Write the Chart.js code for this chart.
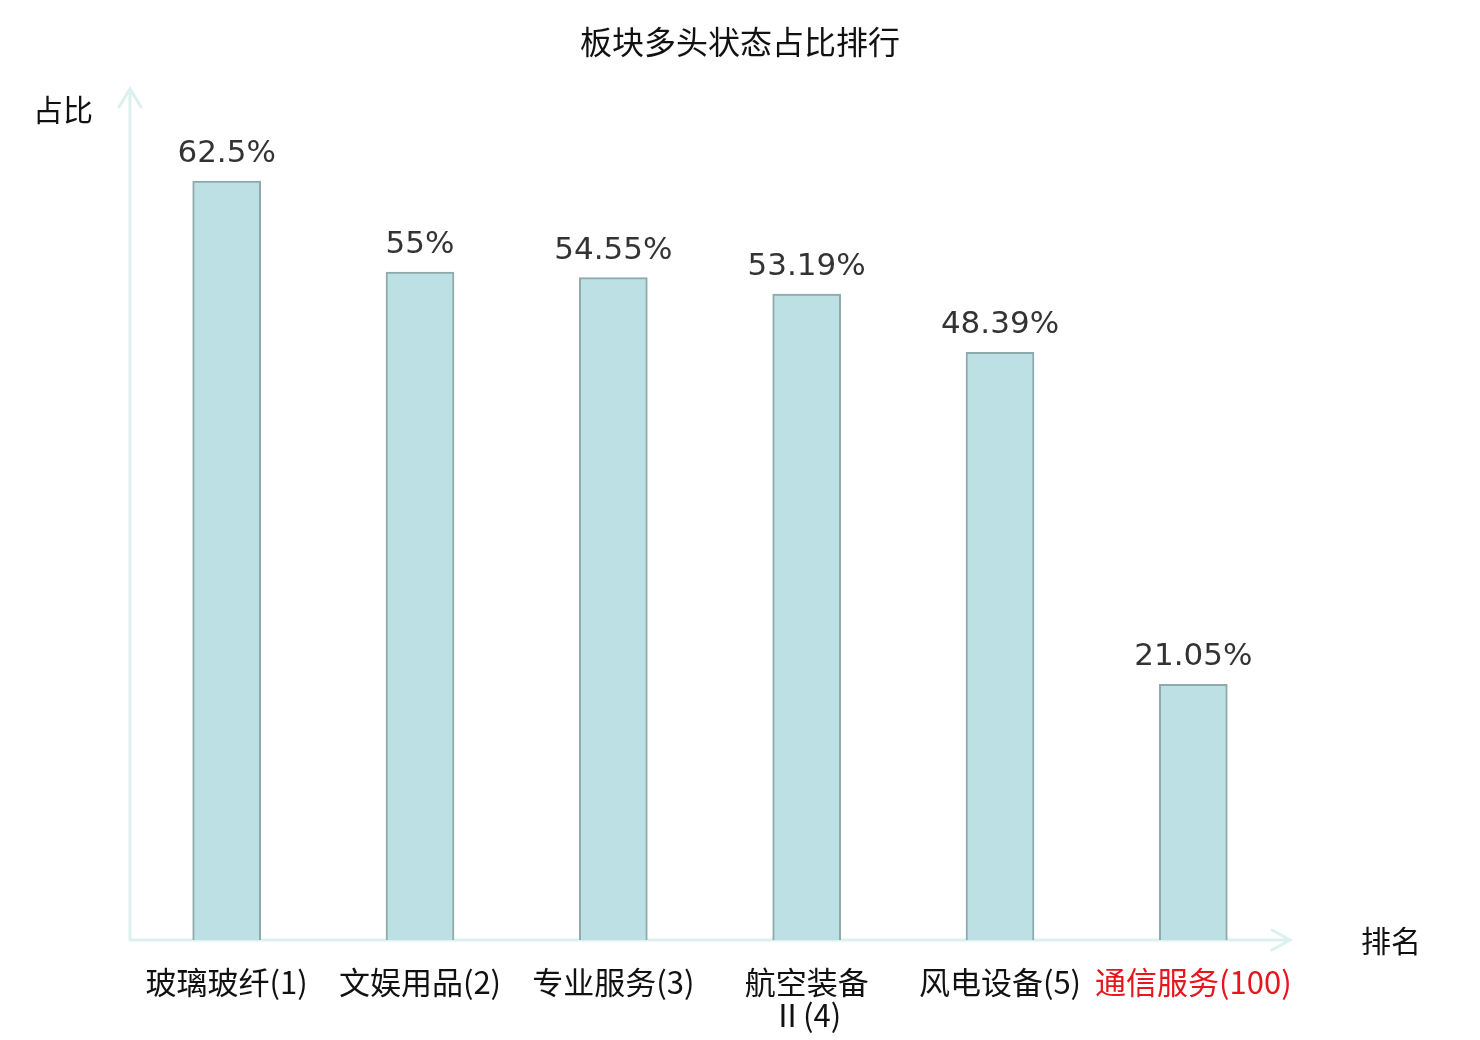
<!DOCTYPE html>
<html>
<head>
<meta charset="utf-8">
<script src="https://cdn.jsdelivr.net/npm/chart.js@4.4.1/dist/chart.umd.min.js"></script>
<style>
  html, body { margin: 0; padding: 0; background: #fff; }
  #wrap { width: 1480px; height: 1040px; }
</style>
</head>
<body>
<div id="wrap"><canvas id="rankChart" width="1480" height="1040"></canvas></div>
<script>
// categories and values
const categories = [
    '玻璃玻纤(1)',
    '文娱用品(2)',
    '专业服务(3)',
    ['航空装备', 'Ⅱ(4)'],
    '风电设备(5)',
    '通信服务(100)'
];
const shares = [62.5, 55, 54.55, 53.19, 48.39, 21.05];
const shareLabels = ['62.5%', '55%', '54.55%', '53.19%', '48.39%', '21.05%'];
const highlightIndex = 5; // last one is shown in red

const axisColor = '#dcf1ee';
const cjkFont = '"Noto Sans CJK SC", "Noto Sans", sans-serif';

// title, axis arrows, axis names and value labels
const decorPlugin = {
    id: 'decor',
    beforeDatasetsDraw(chart) {
        const ctx = chart.ctx;
        const area = chart.chartArea;
        ctx.save();
        ctx.strokeStyle = axisColor;
        ctx.lineWidth = 3;
        ctx.lineCap = 'round';
        // y axis
        ctx.beginPath();
        ctx.moveTo(area.left, area.bottom);
        ctx.lineTo(area.left, area.top - 1);
        ctx.moveTo(area.left - 11, area.top + 17);
        ctx.lineTo(area.left, area.top - 1);
        ctx.lineTo(area.left + 11, area.top + 17);
        // x axis
        ctx.moveTo(area.left, area.bottom);
        ctx.lineTo(area.right, area.bottom);
        ctx.moveTo(area.right - 18, area.bottom - 10);
        ctx.lineTo(area.right, area.bottom);
        ctx.lineTo(area.right - 18, area.bottom + 10);
        ctx.stroke();
        ctx.restore();
    },
    afterDatasetsDraw(chart) {
        const ctx = chart.ctx;
        ctx.save();
        ctx.fillStyle = '#111';
        ctx.textAlign = 'center';
        ctx.textBaseline = 'middle';
        ctx.font = '32px ' + cjkFont;
        ctx.fillText('板块多头状态占比排行', chart.width / 2, 42);
        ctx.font = '30px ' + cjkFont;
        ctx.fillText('占比', 63, 110);
        ctx.fillText('排名', 1391, 941);

        // value labels over bars
        ctx.fillStyle = '#333';
        ctx.font = '31px "DejaVu Sans", sans-serif';
        ctx.textBaseline = 'alphabetic';
        const meta = chart.getDatasetMeta(0);
        meta.data.forEach(function(bar, i) {
            ctx.fillText(shareLabels[i], bar.x, bar.y - 19);
        });
        ctx.restore();
    }
};

const rankCtx = document.getElementById('rankChart').getContext('2d');
const rankChart = new Chart(rankCtx, {
    type: 'bar',
    data: {
        labels: categories,
        datasets: [{
            label: '占比',
            data: shares,
            backgroundColor: '#bce0e3',
            borderColor: '#8eaaab',
            borderWidth: 2,
            borderSkipped: 'bottom',
            barThickness: 68
        }]
    },
    options: {
        responsive: false,
        animation: false,
        devicePixelRatio: 1,
        layout: {
            padding: { left: 130, right: 190, top: 90, bottom: 0 }
        },
        plugins: {
            legend: { display: false },
            title: { display: false },
            tooltip: { enabled: false }
        },
        scales: {
            x: {
                grid: { display: false, drawTicks: false },
                border: { display: false },
                ticks: {
                    autoSkip: false,
                    maxRotation: 0,
                    minRotation: 0,
                    padding: 26,
                    font: { family: cjkFont, size: 31, lineHeight: 1.05 },
                    color: function(c) {
                        return c.index === highlightIndex ? '#e6161c' : '#111';
                    }
                },
                afterFit: function(scale) { scale.height = 100; }
            },
            y: {
                min: 0,
                max: 70,
                display: false
            }
        }
    },
    plugins: [decorPlugin]
});
</script>
</body>
</html>
